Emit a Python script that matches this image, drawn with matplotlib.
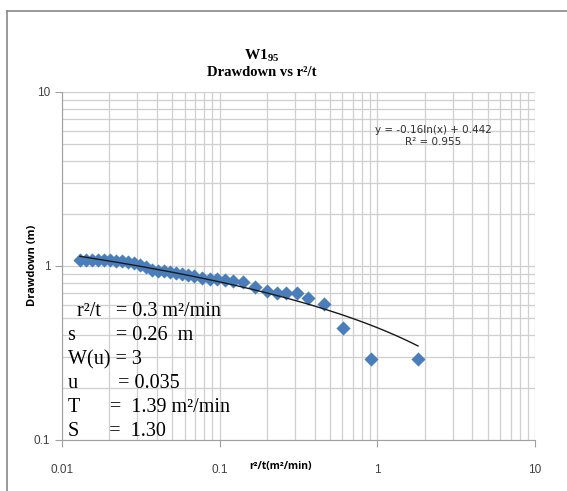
import matplotlib
matplotlib.use("Agg")
import matplotlib.pyplot as plt
from matplotlib.lines import Line2D
import numpy as np

# r2/t (m2/min) and drawdown (m)
r2t = [0.0130, 0.0142, 0.0155, 0.0169, 0.0185, 0.0202, 0.0220, 0.0240,
       0.0262, 0.0286, 0.0312, 0.0341, 0.0372, 0.0406, 0.0443, 0.0484,
       0.0528, 0.0577, 0.0630, 0.0687, 0.0773, 0.0868, 0.0961, 0.108,
       0.121, 0.141, 0.167, 0.200, 0.231, 0.263, 0.309, 0.363, 0.459,
       0.605, 0.911, 1.81]
drawdown = [1.083, 1.083, 1.083, 1.083, 1.083, 1.083, 1.068, 1.068,
            1.054, 1.040, 1.013, 0.987, 0.948, 0.936, 0.936, 0.924,
            0.912, 0.900, 0.888, 0.876, 0.853, 0.842, 0.842, 0.831,
            0.820, 0.809, 0.758, 0.718, 0.700, 0.700, 0.700, 0.655,
            0.605, 0.440, 0.292, 0.292]

# logarithmic trendline shown on the chart
trend_slope = -0.16
trend_intercept = 0.442
trend_label = "y = -0.16ln(x) + 0.442\nR² = 0.955"

param_lines = [
    (" r²/t   = 0.3 m²/min", 72),
    ("s        = 0.26  m", 68),
    ("W(u) = 3", 68),
    ("u        = 0.035", 68),
    ("T      =  1.39 m²/min", 68),
    ("S      =  1.30", 68),
]

W, H = 567, 491
fig = plt.figure(figsize=(W / 100, H / 100), dpi=100)
ax = fig.add_axes([62 / W, 1 - 440 / H, (535 - 62) / W, (440 - 92) / H])

ax.set_xscale("log")
ax.set_yscale("log")
ax.set_xlim(0.01, 10)
ax.set_ylim(0.1, 10)

grid_c = "#cfcfcf"
ax.grid(True, which="major", color=grid_c, lw=0.9)
ax.grid(True, which="minor", color=grid_c, lw=0.9)
ax.set_axisbelow(True)
for side in ["top", "right"]:
    ax.spines[side].set_visible(False)
for side in ["left", "bottom"]:
    ax.spines[side].set_color("#a0a0a0")

ax.scatter(r2t, drawdown, marker="D", s=52, color="#4a7ebb", zorder=3, lw=0)

xt = np.linspace(min(r2t), max(r2t), 200)
ax.plot(xt, trend_slope * np.log(xt) + trend_intercept, color="#1a1a1a", lw=1, zorder=4)

ax.set_xticks([0.01, 0.1, 1, 10])
ax.set_xticklabels(["0.01", "0.1", "1", "10"])
ax.set_yticks([0.1, 1, 10])
ax.set_yticklabels(["0.1", "1", "10"])
ax.tick_params(which="minor", length=0)
ax.tick_params(which="major", length=5, color="#a0a0a0", labelsize=8.5,
               labelcolor="#404040", labelfontfamily="Liberation Sans")
ax.tick_params(axis="x", pad=12)

fig.text(33 / W, 1 - 265 / H, "Drawdown (m)", fontsize=8, fontweight="bold",
         family="Open Sans", rotation=90, ha="center", va="center")
fig.text(280 / W, 1 - 467 / H, "r²/t(m²/min)", fontsize=7.5, fontweight="bold",
         family="Open Sans", ha="center", va="center")

fig.text(262 / W, 1 - 56 / H, r"W1$_{\mathregular{95}}$", fontsize=11, fontweight="bold",
         family="Liberation Serif", ha="center", va="center")
fig.text(262 / W, 1 - 73 / H, "Drawdown vs r²/t", fontsize=10.5, fontweight="bold",
         family="Liberation Serif", ha="center", va="center")

fig.text(433 / W, 1 - 136 / H, trend_label, fontsize=7.5, family="Liberation Sans Narrow",
         ha="center", va="center", color="#303030", linespacing=1.3)

for i, (line, xpx) in enumerate(param_lines):
    fig.text(xpx / W, 1 - (312 + i * 24) / H, line, fontsize=14.5,
             family="Liberation Serif", ha="left", va="center")

fig.add_artist(Line2D([7 / W, 1], [1 - 11 / H, 1 - 11 / H], color="#888888", lw=1.2))
fig.add_artist(Line2D([7 / W, 7 / W], [0, 1 - 11 / H], color="#888888", lw=1.2))

fig.savefig("out.png", dpi=100)
